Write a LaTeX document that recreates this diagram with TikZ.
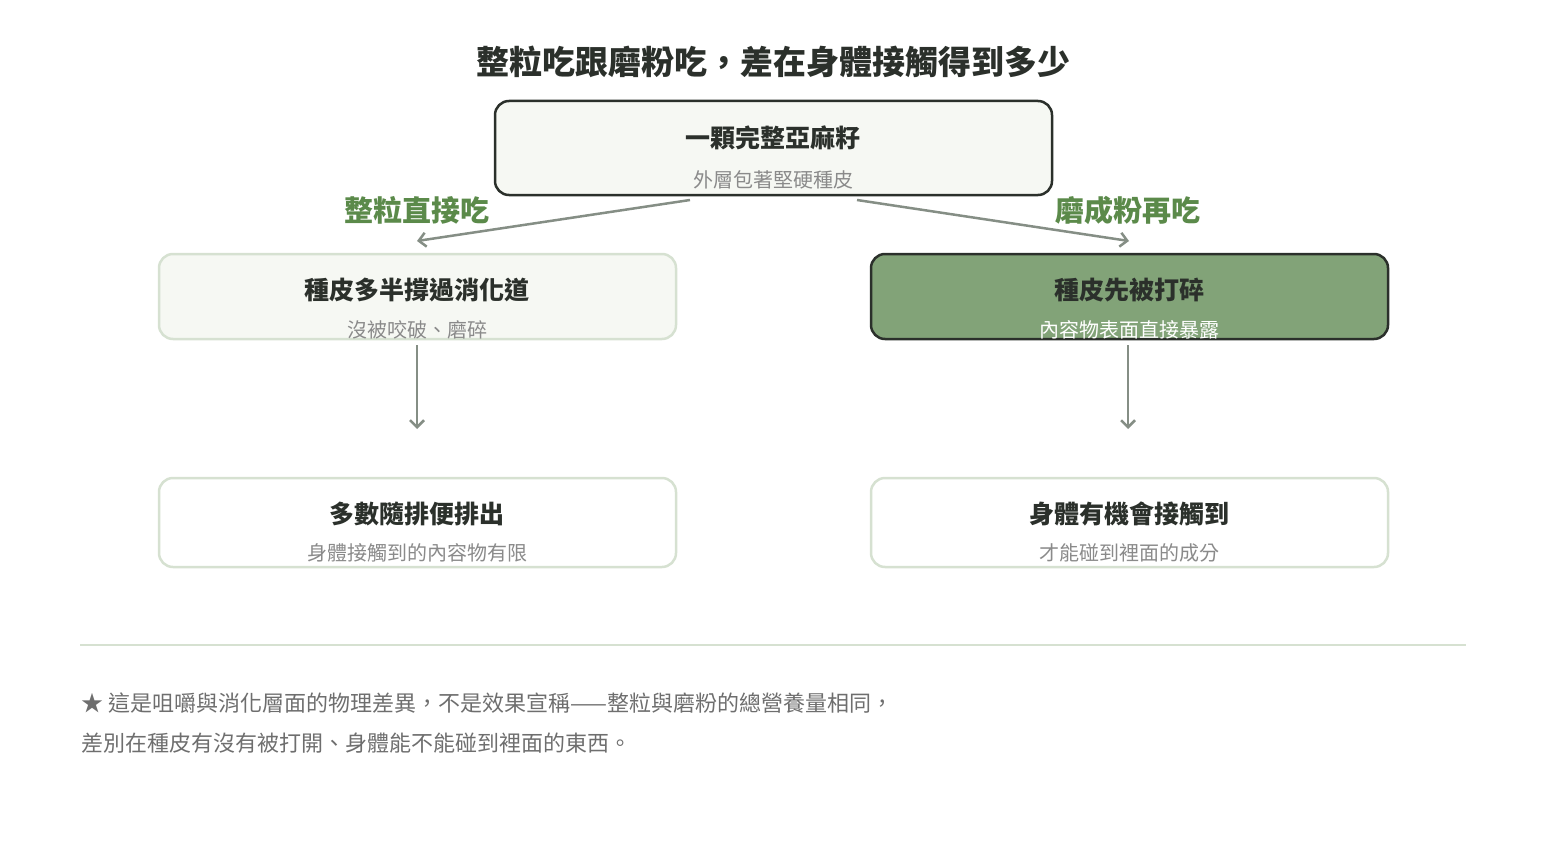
\documentclass[tikz,border=0pt]{standalone}
\usepackage{fontspec}
\setmainfont{Noto Sans CJK TC}
\usetikzlibrary{arrows.meta}
\definecolor{dark}{HTML}{2B302B}
\definecolor{grn}{HTML}{5B8A4A}
\definecolor{gfill}{HTML}{82A378}
\definecolor{lfill}{HTML}{F6F8F3}
\definecolor{lbord}{HTML}{D6E1D1}
\definecolor{arr}{HTML}{858E85}
\definecolor{sub}{HTML}{8A8A8A}
\begin{document}
\begin{tikzpicture}[x=1pt,y=-1pt,
 box/.style={rounded corners=14pt,line width=2.5pt},
 ttl/.style={font=\fontsize{25}{28}\selectfont\bfseries,text=dark},
 st/.style={font=\fontsize{20}{24}\selectfont,text=sub},
 ar/.style={draw=arr,line width=2.5pt,-{Straight Barb[length=7pt,width=14pt]}},
 lab/.style={font=\fontsize{29}{32}\selectfont\bfseries,text=grn}]
\useasboundingbox (0,0) rectangle (1546,840);
\node[font=\fontsize{33}{36}\selectfont\bfseries,text=dark] (title) at (773,62) {整粒吃跟磨粉吃，差在身體接觸得到多少};
\draw[box,draw=dark,fill=lfill] (495,101) rectangle (1052,195);
\node[ttl] (t1) at (773,138) {一顆完整亞麻籽};
\node[st] (s1) at (773,180) {外層包著堅硬種皮};
\draw[box,draw=lbord,fill=lfill] (159,254) rectangle (676,339);
\node[ttl] (t2) at (417,290) {種皮多半撐過消化道};
\node[st] (s2) at (417,330) {沒被咬破、磨碎};
\draw[box,draw=dark,fill=gfill] (871,254) rectangle (1388,339);
\node[ttl] (t3) at (1129,290) {種皮先被打碎};
\node[st,text=white] (s3) at (1129,330) {內容物表面直接暴露};
\draw[box,draw=lbord,fill=white] (159,478) rectangle (676,567);
\node[ttl] (t4) at (417,514) {多數隨排便排出};
\node[st] (s4) at (417,553) {身體接觸到的內容物有限};
\draw[box,draw=lbord,fill=white] (871,478) rectangle (1388,567);
\node[ttl] (t5) at (1129,514) {身體有機會接觸到};
\node[st] (s5) at (1129,553) {才能碰到裡面的成分};
\coordinate (a1) at (690,200); \coordinate (b1) at (417,241);
\coordinate (a2) at (857,200); \coordinate (b2) at (1129,241);
\coordinate (a3) at (417,345); \coordinate (b3) at (417,429);
\coordinate (a4) at (1128,345); \coordinate (b4) at (1128,429);
\draw[ar] (a1)--(b1); \draw[ar] (a2)--(b2);
\draw[ar] (a3)--(b3); \draw[ar] (a4)--(b4);
\node[lab] (l1) at (417,210) {整粒直接吃};
\node[lab] (l2) at (1128,210) {磨成粉再吃};
\draw[lbord,line width=1.2pt] (80,645) -- (1466,645);
\node[anchor=west,font=\fontsize{22}{26}\selectfont,text=sub!80!black] (f1) at (78,703) {★ 這是咀嚼與消化層面的物理差異，不是效果宣稱——整粒與磨粉的總營養量相同，};
\node[anchor=west,font=\fontsize{22}{26}\selectfont,text=sub!80!black] (f2) at (78,743) {差別在種皮有沒有被打開、身體能不能碰到裡面的東西。};
\end{tikzpicture}
\end{document}
